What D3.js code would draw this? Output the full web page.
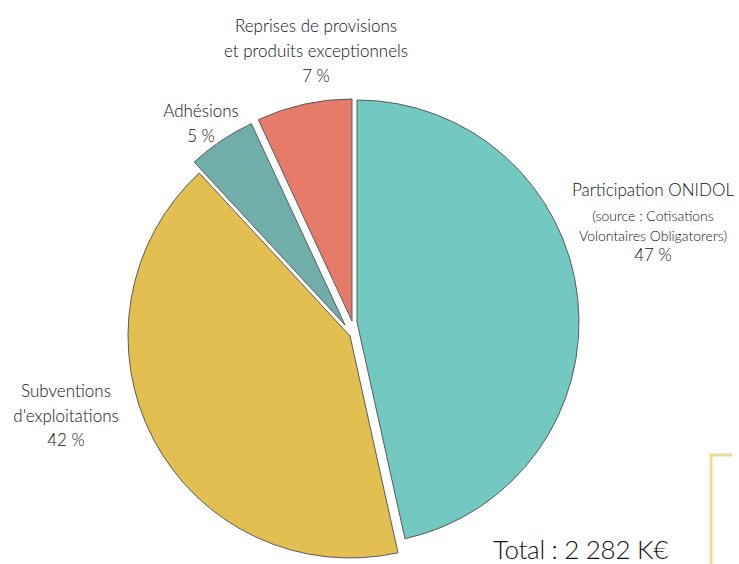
<!DOCTYPE html>
<html>
<head>
<meta charset="utf-8">
<script src="https://cdn.jsdelivr.net/npm/d3@7"></script>
<style>
  body { margin: 0; background: #ffffff; }
  svg { display: block; }
  text { font-family: Lato, "Open Sans", sans-serif; fill: #111111; }
</style>
</head>
<body>
<svg id="chart" width="739" height="564"></svg>
<script>
// Budget breakdown (share of total income, %), clockwise from 12 o'clock
const categories = [
  "Participation ONIDOL",
  "Subventions d'exploitations",
  "Adhésions",
  "Reprises de provisions et produits exceptionnels"
];
const shares = [47, 42, 5, 7];
const sliceColors = ["#72c9c1", "#e3bf52", "#70aeac", "#e57b68"];
const labelLines = [
  ["Participation ONIDOL", "(source : Cotisations", "Volontaires Obligatorers)"],
  ["Subventions", "d'exploitations"],
  ["Adhésions"],
  ["Reprises de provisions", "et produits exceptionnels"]
];
const totalLabel = "Total : 2 282 K€";

// Layout: pie centre, radius, per-slice explode shift, label anchors
const layout = {
  cx: 352, cy: 328, r: 222,
  explode: [[5, -6], [-2, 8], [-7, -3], [0, -7]],
  labels: [
    { x: 653, y: 196, sizes: [17, 14, 14], gaps: [0, 25, 20], pctGap: 20 },
    { x: 66, y: 397, sizes: [17, 17], gaps: [0, 25], pctGap: 24 },
    { x: 201, y: 117, sizes: [17], gaps: [0], pctGap: 25 },
    { x: 316, y: 32, sizes: [17, 17], gaps: [0, 25], pctGap: 25 }
  ]
};

const svg = d3.select("#chart");

const pie = d3.pie().sort(null).value(d => d.value);
const arcs = pie(shares.map((v, i) => ({ value: v, name: categories[i], i })));
const arc = d3.arc().innerRadius(0).outerRadius(layout.r);

svg.append("g")
  .selectAll("path")
  .data(arcs)
  .join("path")
  .attr("transform", d => {
    const [dx, dy] = layout.explode[d.data.i];
    return `translate(${layout.cx + dx},${layout.cy + dy})`;
  })
  .attr("d", arc)
  .attr("fill", d => sliceColors[d.data.i])
  .attr("stroke", "#5a5a5a")
  .attr("stroke-width", 1)
  .attr("stroke-linejoin", "miter");

// Category labels with percentage below
const labelG = svg.append("g")
  .attr("text-anchor", "middle")
  .attr("font-weight", 300);
arcs.forEach(d => {
  const i = d.data.i;
  const L = layout.labels[i];
  const t = labelG.append("text").attr("x", L.x).attr("y", L.y);
  labelLines[i].forEach((line, k) => {
    t.append("tspan")
      .attr("x", L.x)
      .attr("dy", L.gaps[k])
      .attr("font-size", L.sizes[k])
      .text(line);
  });
  t.append("tspan")
    .attr("x", L.x)
    .attr("dy", L.pctGap)
    .attr("font-size", 17)
    .text(`${d.data.value} %`);
});

// Total
svg.append("text")
  .attr("x", 493)
  .attr("y", 559)
  .attr("font-size", 26)
  .attr("font-weight", 300)
  .attr("letter-spacing", -0.3)
  .text(totalLabel);

// Decorative corner bracket
svg.append("path")
  .attr("d", "M732,455 H711 V564")
  .attr("fill", "none")
  .attr("stroke", "#f1da98")
  .attr("stroke-width", 3);
</script>
</body>
</html>
